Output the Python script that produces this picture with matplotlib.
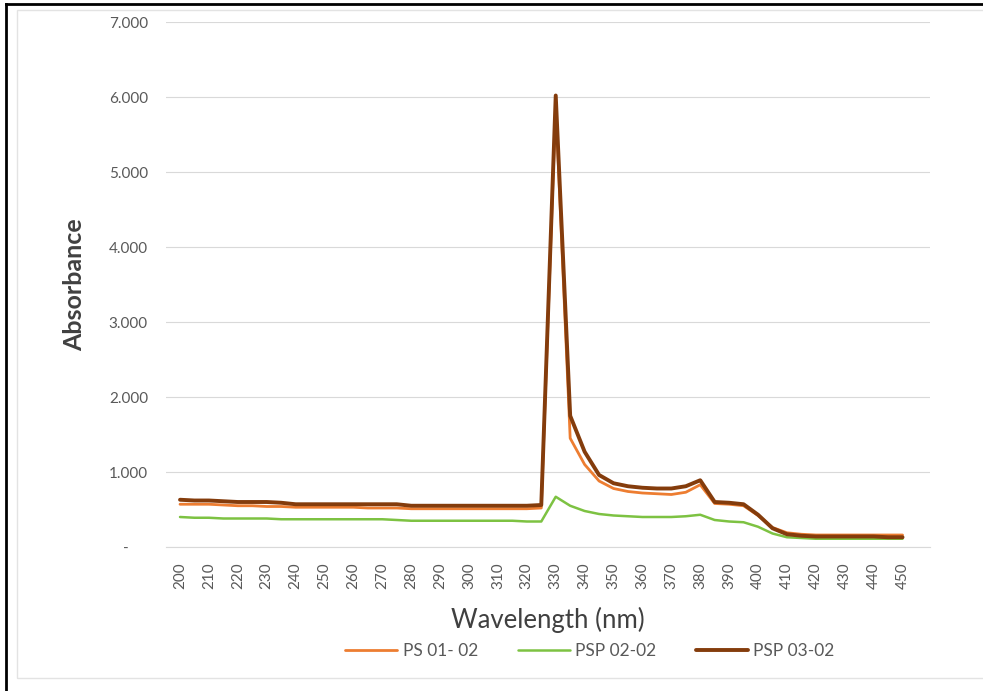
import matplotlib
matplotlib.use("Agg")
import matplotlib.pyplot as plt
from matplotlib.lines import Line2D
from matplotlib.patches import Rectangle
from matplotlib.ticker import FuncFormatter

plt.rcParams['font.family'] = ['Lato', 'DejaVu Sans']

# wavelength grid (5 nm steps)
wavelength = list(range(200, 451, 5))

ps_01_02 = [0.57, 0.57, 0.57, 0.56, 0.55, 0.55, 0.54, 0.54, 0.53, 0.53,
            0.53, 0.53, 0.53, 0.52, 0.52, 0.52, 0.51, 0.51, 0.51, 0.51,
            0.51, 0.51, 0.51, 0.51, 0.51, 0.52, 5.90, 1.45, 1.10, 0.88,
            0.78, 0.74, 0.72, 0.71, 0.70, 0.73, 0.83, 0.58, 0.57, 0.55,
            0.42, 0.26, 0.19, 0.17, 0.16, 0.16, 0.16, 0.16, 0.16, 0.16, 0.16]

psp_02_02 = [0.40, 0.39, 0.39, 0.38, 0.38, 0.38, 0.38, 0.37, 0.37, 0.37,
             0.37, 0.37, 0.37, 0.37, 0.37, 0.36, 0.35, 0.35, 0.35, 0.35,
             0.35, 0.35, 0.35, 0.35, 0.34, 0.34, 0.67, 0.55, 0.48, 0.44,
             0.42, 0.41, 0.40, 0.40, 0.40, 0.41, 0.43, 0.36, 0.34, 0.33,
             0.27, 0.18, 0.13, 0.12, 0.11, 0.11, 0.11, 0.11, 0.11, 0.11, 0.11]

psp_03_02 = [0.63, 0.62, 0.62, 0.61, 0.60, 0.60, 0.60, 0.59, 0.57, 0.57,
             0.57, 0.57, 0.57, 0.57, 0.57, 0.57, 0.55, 0.55, 0.55, 0.55,
             0.55, 0.55, 0.55, 0.55, 0.55, 0.56, 6.02, 1.75, 1.27, 0.96,
             0.85, 0.81, 0.79, 0.78, 0.78, 0.81, 0.89, 0.60, 0.59, 0.57,
             0.43, 0.25, 0.17, 0.15, 0.14, 0.14, 0.14, 0.14, 0.14, 0.13, 0.13]

x_ticks = list(range(200, 451, 10))
y_ticks = [0, 1, 2, 3, 4, 5, 6, 7]

W, H = 983, 691
fig = plt.figure(figsize=(W / 100, H / 100), dpi=100)
ax = fig.add_axes([166 / W, 1 - 547 / H, (930 - 166) / W, (547 - 22) / H])

ax.plot(wavelength, ps_01_02, color='#ED7D31', lw=2.0, label='PS 01- 02',
        solid_joinstyle='round', solid_capstyle='round')
ax.plot(wavelength, psp_02_02, color='#7DC242', lw=1.8, label='PSP 02-02',
        solid_joinstyle='round', solid_capstyle='round')
ax.plot(wavelength, psp_03_02, color='#843C0C', lw=2.8, label='PSP 03-02',
        solid_joinstyle='round', solid_capstyle='round')

ax.set_xlim(195.15, 459.5)
ax.set_ylim(0, 7)
ax.set_xticks(x_ticks)
ax.set_yticks(y_ticks)
ax.yaxis.set_major_formatter(FuncFormatter(lambda v, p: '-     ' if v == 0 else f'{v:.3f}'))
ax.tick_params(axis='x', length=0, pad=11, labelsize=11, labelcolor='#595959',
               labelrotation=90)
ax.tick_params(axis='y', length=0, pad=13, labelsize=11, labelcolor='#595959')

ax.grid(axis='y', color='#d9d9d9', lw=0.8)
ax.set_axisbelow(True)
for s in ['top', 'right', 'left']:
    ax.spines[s].set_visible(False)
ax.spines['bottom'].set_color('#d9d9d9')
ax.spines['bottom'].set_linewidth(0.8)

ax.set_ylabel('Absorbance', fontsize=18, fontweight='bold', color='#404040', labelpad=16)
ax.set_xlabel('Wavelength (nm)', fontsize=18.5, color='#404040', labelpad=13)

fig.legend(loc='center', bbox_to_anchor=(590 / W, 1 - 651 / H), ncol=3, frameon=False,
           fontsize=12.5, labelcolor='#595959', handlelength=3.0, columnspacing=2.3,
           handletextpad=0.3)

# chart area border and image frame
fig.add_artist(Rectangle((17 / W, 1 - 678 / H), (W - 10) / W, (678 - 10) / H,
                         transform=fig.transFigure, fill=False, edgecolor='#e3e3e3', lw=1))
fig.add_artist(Line2D([6 / W, 6 / W], [0, 1 - 4 / H], transform=fig.transFigure,
                      color='black', lw=2))
fig.add_artist(Line2D([6 / W, 1], [1 - 4 / H, 1 - 4 / H], transform=fig.transFigure,
                      color='black', lw=2))

fig.savefig('out.png', dpi=100)
